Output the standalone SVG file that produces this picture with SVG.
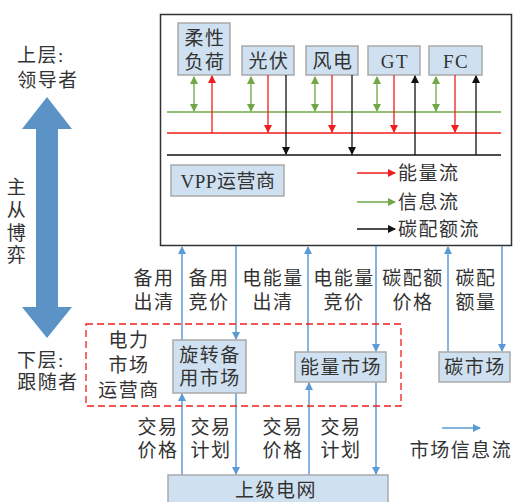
<svg xmlns="http://www.w3.org/2000/svg" width="516" height="502" viewBox="0 0 516 502">
<defs>
<style>
text{font-family:"Liberation Serif","Noto Sans CJK SC",serif;fill:#333;text-anchor:middle;dominant-baseline:central}
.t{font-size:19px;letter-spacing:1.5px}
.s{text-anchor:start}
.node{fill:#cfe1f0;stroke:#a9a9a9;stroke-width:1.5}
.g{stroke:#70a846;stroke-width:1.3;fill:none}
.r{stroke:#f01e1e;stroke-width:1.3;fill:none}
.k{stroke:#111;stroke-width:1.3;fill:none}
.b{stroke:#5b9bd5;stroke-width:1.5;fill:none}
</style>
<marker id="ag" markerWidth="8" markerHeight="10" refX="7" refY="5" orient="auto-start-reverse" markerUnits="userSpaceOnUse"><path d="M0,1 L8,5 L0,9 Z" fill="#70a846"/></marker>
<marker id="ar" markerWidth="8" markerHeight="10" refX="7" refY="5" orient="auto-start-reverse" markerUnits="userSpaceOnUse"><path d="M0,1 L8,5 L0,9 Z" fill="#f01e1e"/></marker>
<marker id="ak" markerWidth="8" markerHeight="10" refX="7" refY="5" orient="auto-start-reverse" markerUnits="userSpaceOnUse"><path d="M0,1 L8,5 L0,9 Z" fill="#111"/></marker>
<marker id="ab" markerWidth="8" markerHeight="10" refX="7" refY="5" orient="auto-start-reverse" markerUnits="userSpaceOnUse"><path d="M0,1 L8,5 L0,9 Z" fill="#5b9bd5"/></marker>
</defs>
<rect width="516" height="502" fill="#fff"/>

<rect id="vpp-frame" x="160.5" y="14.5" width="351" height="231" fill="#fff" stroke="#333" stroke-width="1.5"/>

<g id="n-load"><rect class="node" x="178" y="23" width="52" height="52"/><text class="t" x="205" y="38">柔性</text><text class="t" x="205" y="62">负荷</text></g>
<g id="n-pv"><rect class="node" x="242" y="46" width="52" height="29"/><text class="t" x="269" y="61">光伏</text></g>
<g id="n-wind"><rect class="node" x="306" y="46" width="52" height="29"/><text class="t" x="333" y="61">风电</text></g>
<g id="n-gt"><rect class="node" x="368" y="46" width="52" height="29"/><text class="t" x="395" y="61">GT</text></g>
<g id="n-fc"><rect class="node" x="429" y="46" width="53" height="29"/><text class="t" x="456" y="61">FC</text></g>
<g id="n-vppop"><rect class="node" x="171" y="165" width="113" height="31"/><text class="t" x="228" y="181" style="letter-spacing:0.5px">VPP运营商</text></g>

<g id="connectors">
<line class="g" x1="167" y1="112" x2="501" y2="112"/>
<line class="r" x1="167" y1="133" x2="501" y2="133"/>
<line class="k" x1="167" y1="155" x2="501" y2="155" stroke-width="1.6"/>
<line class="g" x1="194" y1="77" x2="194" y2="111" marker-start="url(#ag)" marker-end="url(#ag)"/>
<line class="g" x1="251" y1="77" x2="251" y2="111" marker-start="url(#ag)" marker-end="url(#ag)"/>
<line class="g" x1="315" y1="77" x2="315" y2="111" marker-start="url(#ag)" marker-end="url(#ag)"/>
<line class="g" x1="377" y1="77" x2="377" y2="111" marker-start="url(#ag)" marker-end="url(#ag)"/>
<line class="g" x1="436" y1="77" x2="436" y2="111" marker-start="url(#ag)" marker-end="url(#ag)"/>
<line class="r" x1="212" y1="133" x2="212" y2="76" marker-end="url(#ar)"/>
<line class="r" x1="268" y1="75" x2="268" y2="132" marker-end="url(#ar)"/>
<line class="r" x1="332" y1="75" x2="332" y2="132" marker-end="url(#ar)"/>
<line class="r" x1="394" y1="75" x2="394" y2="132" marker-end="url(#ar)"/>
<line class="r" x1="455" y1="75" x2="455" y2="132" marker-end="url(#ar)"/>
<line class="k" x1="286" y1="75" x2="286" y2="154" marker-end="url(#ak)"/>
<line class="k" x1="352" y1="75" x2="352" y2="154" marker-end="url(#ak)"/>
<line class="k" x1="415" y1="155" x2="415" y2="76" marker-end="url(#ak)"/>
<line class="k" x1="476" y1="155" x2="476" y2="76" marker-end="url(#ak)"/>
<line class="r" x1="357" y1="173" x2="395" y2="173" marker-end="url(#ar)"/>
<line class="g" x1="357" y1="202" x2="395" y2="202" marker-end="url(#ag)"/>
<line class="k" x1="357" y1="229" x2="395" y2="229" marker-end="url(#ak)"/>
<line class="b" x1="182" y1="340" x2="182" y2="247" marker-end="url(#ab)"/>
<line class="b" x1="236" y1="246" x2="236" y2="339" marker-end="url(#ab)"/>
<line class="b" x1="308" y1="352" x2="308" y2="247" marker-end="url(#ab)"/>
<line class="b" x1="376" y1="246" x2="376" y2="351" marker-end="url(#ab)"/>
<line class="b" x1="448" y1="352" x2="448" y2="247" marker-end="url(#ab)"/>
<line class="b" x1="502" y1="246" x2="502" y2="351" marker-end="url(#ab)"/>
<line class="b" x1="182" y1="475" x2="182" y2="394" marker-end="url(#ab)"/>
<line class="b" x1="236" y1="393" x2="236" y2="474" marker-end="url(#ab)"/>
<line class="b" x1="309" y1="475" x2="309" y2="383" marker-end="url(#ab)"/>
<line class="b" x1="376" y1="382" x2="376" y2="474" marker-end="url(#ab)"/>
<line class="b" x1="442" y1="428" x2="480" y2="428" marker-end="url(#ab)"/>
</g>

<g id="legend">
<text class="t s" x="398" y="173">能量流</text>
<text class="t s" x="398" y="202">信息流</text>
<text class="t s" x="398" y="229">碳配额流</text>
<text class="t" x="461" y="450">市场信息流</text>
</g>

<g id="leader"><text class="t s" x="17" y="55">上层:</text><text class="t" x="48" y="80">领导者</text></g>
<path id="game-arrow" d="M47,97 L72,129 L58,129 L58,307 L72,307 L47,338 L22,307 L36,307 L36,129 L22,129 Z" fill="#5b93c6"/>
<g id="game-label"><text class="t" x="17" y="187">主</text><text class="t" x="17" y="210">从</text><text class="t" x="17" y="233">博</text><text class="t" x="17" y="255">弈</text></g>
<g id="follower"><text class="t s" x="17" y="360">下层:</text><text class="t" x="48" y="382">跟随者</text></g>

<g id="market-operator">
<rect x="86" y="324" width="315" height="82" fill="none" stroke="#f01e1e" stroke-width="1.3" stroke-dasharray="7,4"/>
<text class="t" x="129" y="340">电力</text><text class="t" x="129" y="365">市场</text><text class="t" x="129" y="390">运营商</text>
</g>
<g id="n-reserve"><rect class="node" x="173" y="340" width="73" height="53"/><text class="t" x="210" y="355">旋转备</text><text class="t" x="210" y="378">用市场</text></g>
<g id="n-energy"><rect class="node" x="295" y="352" width="91" height="30"/><text class="t" x="341" y="367">能量市场</text></g>
<g id="n-carbon"><rect class="node" x="439" y="352" width="71" height="30"/><text class="t" x="475" y="367">碳市场</text></g>
<g id="n-grid"><rect class="node" x="168" y="475" width="220" height="34"/><text class="t" x="276" y="490">上级电网</text></g>

<g id="labels">
<text class="t" x="154" y="278">备用</text><text class="t" x="154" y="302">出清</text>
<text class="t" x="209" y="278">备用</text><text class="t" x="209" y="302">竞价</text>
<text class="t" x="273" y="278">电能量</text><text class="t" x="273" y="302">出清</text>
<text class="t" x="344" y="278">电能量</text><text class="t" x="344" y="302">竞价</text>
<text class="t" x="413" y="278">碳配额</text><text class="t" x="413" y="302">价格</text>
<text class="t" x="476" y="278">碳配</text><text class="t" x="476" y="302">额量</text>
<text class="t" x="158" y="427">交易</text><text class="t" x="158" y="450">价格</text>
<text class="t" x="211" y="427">交易</text><text class="t" x="211" y="450">计划</text>
<text class="t" x="283" y="427">交易</text><text class="t" x="283" y="450">价格</text>
<text class="t" x="341" y="427">交易</text><text class="t" x="341" y="450">计划</text>
</g>
</svg>
